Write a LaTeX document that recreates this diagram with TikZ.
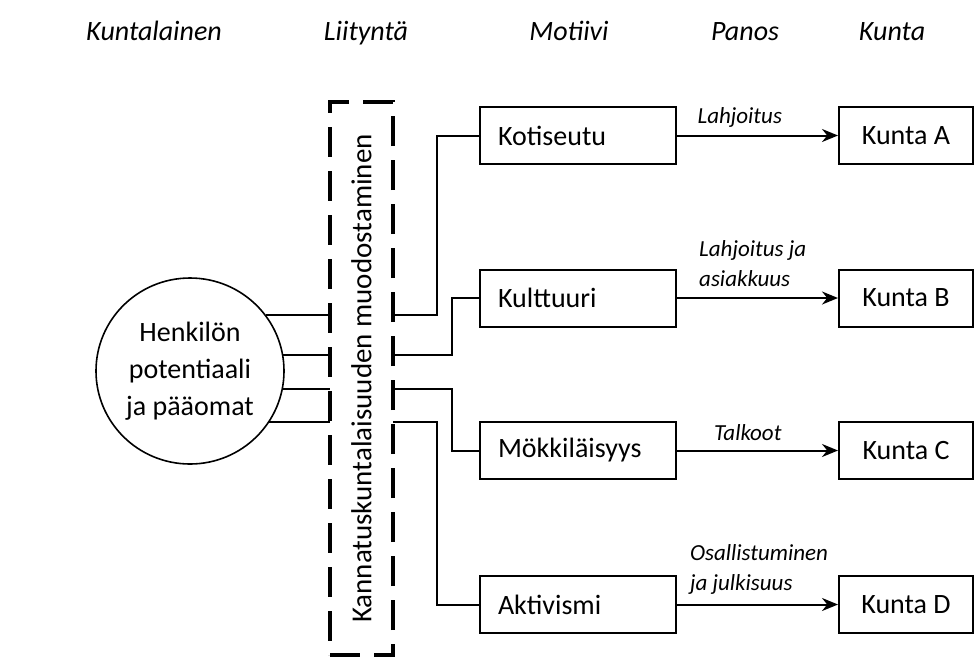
\documentclass[tikz,border=0pt]{standalone}
\usepackage{fontspec}
\setmainfont{Carlito}
\usepackage{tikz}
\usetikzlibrary{shapes,arrows,arrows.meta}
\usetikzlibrary{shapes.geometric}
\usetikzlibrary{positioning}
\tikzstyle{block} = [rectangle, draw, line width=2pt, minimum width=196pt,
minimum height=57pt, text width=160pt, align=left, inner sep=0pt,
font=\fontsize{28}{33}\selectfont]
\tikzstyle{kunta} = [rectangle, draw, line width=2pt, minimum width=134pt,
minimum height=57pt, align=center, inner sep=0pt,
font=\fontsize{28}{33}\selectfont]
\tikzstyle{head} = [anchor=base, font=\fontsize{28}{33}\selectfont\itshape]
\tikzstyle{lbl} = [font=\fontsize{23}{30}\selectfont\itshape, align=left, inner sep=0pt]
\tikzstyle{line} = [draw, line width=2pt, -{Stealth[length=16pt,width=13pt]}]
\tikzstyle{conn} = [draw, line width=2pt]

\begin{document}
\begin{tikzpicture}[x=1pt, y=-1pt,
person/.style={
	ellipse,
	draw,
	line width=1.6pt,
	minimum width=188pt,
	minimum height=186pt,
	inner sep=0pt,
	align=center,
	font=\fontsize{28}{37}\selectfont
},
liit/.style={
	rectangle,
	draw,
	line width=4pt,
	dash pattern=on 30pt off 14pt,
	minimum width=63pt,
	minimum height=553pt,
	inner sep=0pt,
	outer sep=0pt,
	font=\fontsize{29}{34}\selectfont
}
]
\useasboundingbox (0,0) rectangle (974,657);
% Headers
\node [head] (h1) at (154,40) {Kuntalainen};
\node [head] (h2) at (366,40) {Liityntä};
\node [head] (h3) at (569,40) {Motiivi};
\node [head] (h4) at (745,40) {Panos};
\node [head] (h5) at (892,40) {Kunta};
% Place nodes
\node [person] (pot) at (190,371) {Henkilön\\potentiaali\\ja pääomat};
\node [liit] (lt) at (361.5,378.5) {\rotatebox{90}{Kannatuskuntalaisuuden muodostaminen}};
\node [block] (m1) at (578,135.5) {Kotiseutu};
\node [block] (m2) at (578,298) {Kulttuuri};
\node [block] (m3) at (578,450.5) {Mökkiläisyys};
\node [block] (m4) at (578,604.5) {Aktivismi};
\node [kunta, right of=m1, node distance=328pt] (k1) {Kunta A};
\node [kunta, right of=m2, node distance=328pt] (k2) {Kunta B};
\node [kunta, right of=m3, node distance=328pt] (k3) {Kunta C};
\node [kunta, right of=m4, node distance=328pt] (k4) {Kunta D};

% Draw edges
\path [conn] (pot.36) -- (pot.36 -| lt.west);
\path [conn] (pot.10) -- (pot.10 -| lt.west);
\path [conn] (pot.-11) -- (pot.-11 -| lt.west);
\path [conn] (pot.-33) -- (pot.-33 -| lt.west);
\path [conn] (pot.36 -| lt.east) -- ++(44,0) |- (m1.west);
\path [conn] (pot.10 -| lt.east) -- ++(59,0) |- (m2.west);
\path [conn] (pot.-11 -| lt.east) -- ++(59,0) |- (m3.west);
\path [conn] (pot.-33 -| lt.east) -- ++(44,0) |- (m4.west);
\path [line] (m1) -- node [lbl, pos=0.39, above=7pt] {Lahjoitus} (k1);
\path [line] (m2) -- node [lbl, pos=0.47, above=10pt] {Lahjoitus ja\\asiakkuus} (k2);
\path [line] (m3) -- node [lbl, pos=0.44, above=9pt] {Talkoot} (k3);
\path [line] (m4) -- node [lbl, pos=0.51, above=9pt] {Osallistuminen\\ja julkisuus} (k4);
\end{tikzpicture}
\end{document}
